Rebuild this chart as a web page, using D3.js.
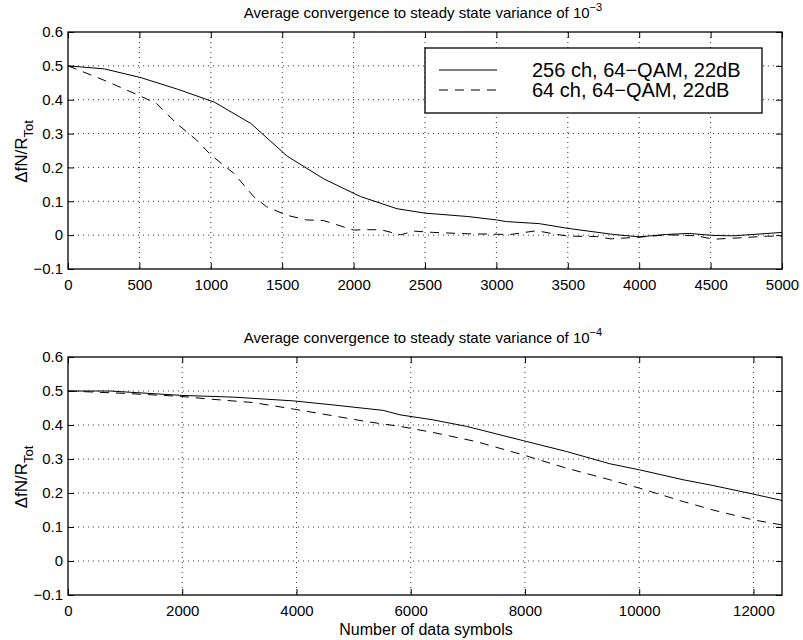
<!DOCTYPE html>
<html><head><meta charset="utf-8">
<script src="https://cdn.jsdelivr.net/npm/d3@7"></script>
<style>body{margin:0;background:#fff}svg{display:block}text{font-family:"Liberation Sans",Arial,Helvetica,sans-serif}</style>
</head><body><svg id="c" width="803" height="640"></svg>
<script>
// ---- data ----
const top256X = [0,256,512,768,1024,1280,1536,1792,2048,2304,2500,2800,3000,3070,3300,3500,3820,4000,4190,4350,4520,4660,5000];
const top256Y = [0.500,0.491,0.465,0.431,0.393,0.330,0.233,0.166,0.114,0.078,0.065,0.055,0.045,0.040,0.034,0.020,0.002,-0.005,0.002,0.005,-0.001,-0.002,0.008];
const top64X = [0,250,490,620,760,900,1000,1160,1300,1390,1530,1670,1790,2000,2070,2190,2330,2420,2560,2800,2950,3100,3280,3400,3500,3700,3800,4000,4200,4400,4520,4700,4900,5000];
const top64Y = [0.500,0.458,0.414,0.389,0.330,0.281,0.237,0.183,0.114,0.084,0.059,0.045,0.043,0.015,0.016,0.016,0.001,0.012,0.008,0.004,0.003,0.002,0.013,0.004,-0.003,-0.004,-0.011,-0.006,0.001,-0.002,-0.012,-0.008,-0.003,-0.003];
const bot256X = [0,735,1990,2893,3944,4643,5518,5810,6393,6977,7968,8727,9485,10010,10768,11293,11993,12500];
const bot256Y = [0.500,0.500,0.487,0.482,0.471,0.459,0.443,0.430,0.415,0.396,0.354,0.322,0.286,0.268,0.239,0.222,0.197,0.178];
const bot64X = [0,1000,1990,2427,3243,3944,4643,5227,5810,6393,7152,7968,8727,9485,10010,10768,11293,11993,12500];
const bot64Y = [0.500,0.493,0.484,0.477,0.466,0.447,0.427,0.410,0.396,0.378,0.351,0.312,0.273,0.239,0.214,0.175,0.150,0.121,0.106];
const yTicks = [-0.1,0,0.1,0.2,0.3,0.4,0.5,0.6];
const topXTicks = [0,500,1000,1500,2000,2500,3000,3500,4000,4500,5000];
const botXTicks = [0,2000,4000,6000,8000,10000,12000];
const seriesNames = ["256 ch, 64\u2212QAM, 22dB","64 ch, 64\u2212QAM, 22dB"];
const titles = [["Average convergence to steady state variance of 10","\u22123"],["Average convergence to steady state variance of 10","\u22124"]];
const xLabel = "Number of data symbols";

const svg = d3.select("#c");
svg.append("rect").attr("width",803).attr("height",640).attr("fill","#fff");
const L=68, R=782;
const fmtY = d => d===0 ? "0" : (d<0?"\u2212":"") + Math.abs(d).toFixed(1);

function panel(top, bottom, xMax, xTicks, series, title, id, showLegend, showXLabel){
  const x = d3.scaleLinear().domain([0,xMax]).range([L,R]);
  const y = d3.scaleLinear().domain([-0.1,0.6]).range([bottom,top]);
  const g = svg.append("g");
  // grid
  g.append("g").selectAll("line").data(xTicks.filter(t=>t>0&&t<xMax)).join("line")
    .attr("x1",d=>x(d)).attr("x2",d=>x(d)).attr("y1",top).attr("y2",bottom)
    .attr("stroke","#000").attr("stroke-width",0.8).attr("stroke-dasharray","1,4");
  g.append("g").selectAll("line").data(yTicks.filter(t=>t>-0.1&&t<0.6)).join("line")
    .attr("x1",L).attr("x2",R).attr("y1",d=>y(d)).attr("y2",d=>y(d))
    .attr("stroke","#000").attr("stroke-width",0.8).attr("stroke-dasharray","1,4");
  // clip
  svg.append("clipPath").attr("id",id).append("rect").attr("x",L).attr("y",top).attr("width",R-L).attr("height",bottom-top);
  const line = d3.line().x(d=>x(d[0])).y(d=>y(d[1]));
  series.forEach(s=>{
    g.append("path").attr("clip-path",`url(#${id})`)
      .attr("d",line(s.xs.map((v,i)=>[v,s.ys[i]])))
      .attr("fill","none").attr("stroke","#000").attr("stroke-width",1)
      .attr("stroke-dasharray",s.dash);
  });
  // axes
  const ax = (a)=>a.attr("font-size",15).attr("font-family","Liberation Sans, Arial, sans-serif")
     .call(s=>s.selectAll(".tick line").attr("stroke","#000"));
  g.append("g").attr("transform",`translate(0,${bottom})`)
    .call(d3.axisBottom(x).tickValues(xTicks).tickSize(-6).tickPadding(10).tickSizeOuter(0).tickFormat(d3.format("d")))
    .call(ax).call(s=>s.select(".domain").remove()).selectAll("text").attr("fill","#000");
  g.append("g").attr("transform",`translate(0,${top})`)
    .call(d3.axisTop(x).tickValues(xTicks).tickSize(-6).tickSizeOuter(0).tickFormat(""))
    .call(ax).call(s=>s.select(".domain").remove());
  g.append("g").attr("transform",`translate(${L},0)`)
    .call(d3.axisLeft(y).tickValues(yTicks).tickSize(-6).tickPadding(5).tickSizeOuter(0).tickFormat(fmtY))
    .call(ax).call(s=>s.select(".domain").remove()).selectAll("text").attr("fill","#000");
  g.append("g").attr("transform",`translate(${R},0)`)
    .call(d3.axisRight(y).tickValues(yTicks).tickSize(-6).tickSizeOuter(0).tickFormat(""))
    .call(ax).call(s=>s.select(".domain").remove());
  g.append("rect").attr("x",L).attr("y",top).attr("width",R-L).attr("height",bottom-top)
    .attr("fill","none").attr("stroke","#000").attr("stroke-width",1.3);
  // title
  const t = g.append("text").attr("x",(L+R)/2-2).attr("y",top-14).attr("text-anchor","middle").attr("font-size",15).attr("fill","#000");
  t.append("tspan").text(title[0]);
  t.append("tspan").attr("dy",-7).attr("font-size",11).text(title[1]);
  // y label
  const yl = g.append("text").attr("transform",`translate(27,${(top+bottom)/2+1}) rotate(-90)`).attr("text-anchor","middle").attr("font-size",17).attr("fill","#000");
  yl.append("tspan").text("\u0394fN/R");
  yl.append("tspan").attr("dy",6).attr("font-size",13).text("Tot");
  if(showXLabel){
    g.append("text").attr("x",(L+R)/2+1).attr("y",bottom+40).attr("text-anchor","middle").attr("font-size",16).attr("fill","#000").text(xLabel);
  }
  if(showLegend){
    const lg = g.append("g");
    lg.append("rect").attr("x",425).attr("y",48).attr("width",337).attr("height",65).attr("fill","#fff").attr("stroke","#000").attr("stroke-width",1.3);
    series.forEach((s,i)=>{
      const yy = 70+i*20;
      lg.append("line").attr("x1",439).attr("x2",497).attr("y1",yy).attr("y2",yy).attr("stroke","#000").attr("stroke-width",1).attr("stroke-dasharray",s.dash);
      lg.append("text").attr("x",532).attr("y",yy+7).attr("font-size",20).attr("fill","#000").text(seriesNames[i]);
    });
  }
}
panel(32,269,5000,topXTicks,[{xs:top256X,ys:top256Y,dash:null},{xs:top64X,ys:top64Y,dash:"9,7"}],titles[0],"cp1",true,false);
panel(357,595,12500,botXTicks,[{xs:bot256X,ys:bot256Y,dash:null},{xs:bot64X,ys:bot64Y,dash:"9,7"}],titles[1],"cp2",false,true);
</script></body></html>
